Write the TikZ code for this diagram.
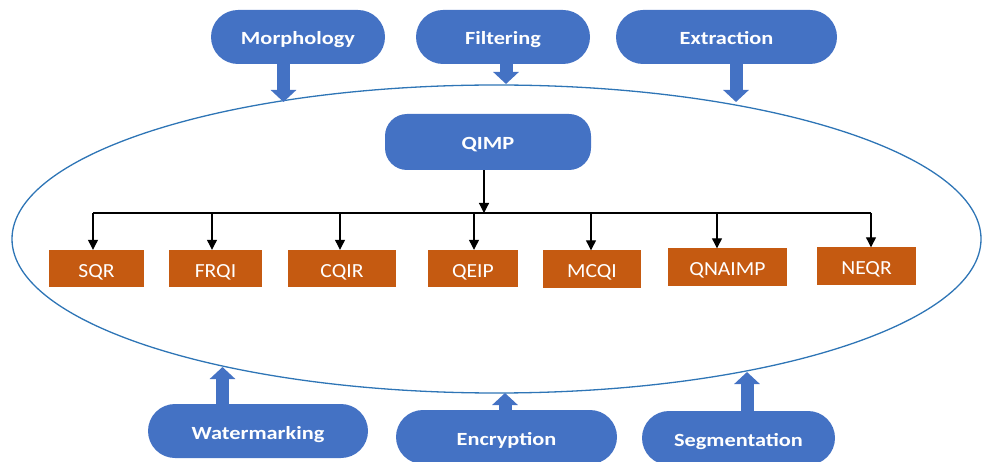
\documentclass[tikz,border=0pt]{standalone}
\usepackage{fontspec}
\setmainfont{Carlito}
\newfontfamily\pillfont[FakeStretch=1.2]{Carlito}
\newfontfamily\boxfont[FakeStretch=1.08]{Carlito}
\usetikzlibrary{arrows.meta}
\definecolor{pillblue}{HTML}{4472C4}
\definecolor{boxorange}{HTML}{C55A11}
\definecolor{ringblue}{HTML}{2E75B6}
\begin{document}
\begin{tikzpicture}[x=1pt,y=-1pt,
  pill/.style={fill=pillblue, draw=none, rounded corners=27pt, minimum height=54pt, text=white,
    font=\pillfont\bfseries\fontsize{18.6}{20}\selectfont, inner sep=0pt, text height=16pt, text depth=0pt},
  qbox/.style={fill=pillblue, draw=none, rounded corners=22pt, minimum height=56pt, minimum width=206pt, text=white,
    font=\pillfont\bfseries\fontsize{18.6}{20}\selectfont, inner sep=0pt, text height=16pt, text depth=0pt},
  obox/.style={fill=boxorange, draw=none, minimum height=37pt, text=white,
    font=\boxfont\fontsize{20}{22}\selectfont, inner sep=0pt, text height=17pt, text depth=0pt},
  blockarrow/.style={draw=pillblue, line width=13pt, -{Triangle[width=25pt,length=12pt]}, shorten <=-1pt},
  blk/.style={draw=black, line width=1.2pt, -{Triangle[width=10pt,length=10pt]}},
  bus/.style={draw=black, line width=1.2pt},
]
\useasboundingbox (0,0) rectangle (982,462);

% ellipse
\draw[ringblue, line width=1.3pt] (496.5,239) ellipse [x radius=484.5pt, y radius=154pt];

% top pills
\node[pill, minimum width=174pt] (morph) at (298,37) {Morphology};
\node[pill, minimum width=174pt] (filt) at (503,37) {Filtering};
\node[pill, minimum width=221pt] (extr) at (726.5,37) {Extraction};

% bottom pills
\node[pill, minimum width=220pt] (water) at (258,431) {Watermarking};
\node[pill, minimum width=221pt] (encr) at (506.5,437) {Encryption};
\node[pill, minimum width=193pt] (segm) at (738.5,438) {Segmentation};

% block arrow tips on the ellipse
\coordinate (tm) at (283.5,102);
\coordinate (tf) at (506,84);
\coordinate (te) at (736,102);
\coordinate (tw) at (222.5,367);
\coordinate (tc) at (505,393);
\coordinate (ts) at (747,372);

\draw[blockarrow] (tm |- morph.south) -- (tm);
\draw[blockarrow] (tf |- filt.south) -- (tf);
\draw[blockarrow] (te |- extr.south) -- (te);
\draw[blockarrow] (tw |- water.north) -- (tw);
\draw[blockarrow] (tc |- encr.north) -- (tc);
\draw[blockarrow] (ts |- segm.north) -- (ts);

% QIMP
\node[qbox] (qimp) at (488,142) {QIMP};

% orange boxes
\node[obox, minimum width=95pt] (sqr) at (96.5,268.5) {SQR};
\node[obox, minimum width=93pt] (frqi) at (215.5,268.5) {FRQI};
\node[obox, minimum width=108pt] (cqir) at (342,268.5) {CQIR};
\node[obox, minimum width=90pt] (qeip) at (473,268.5) {QEIP};
\node[obox, minimum width=98pt] (mcqi) at (592,269) {MCQI};
\node[obox, minimum width=119pt] (qnaimp) at (727.5,267) {QNAIMP};
\node[obox, minimum width=99pt] (neqr) at (866.5,266) {NEQR};

% bus
\coordinate (b1) at (93,213);
\coordinate (b2) at (212,213);
\coordinate (b3) at (340,213);
\coordinate (b4) at (474,213);
\coordinate (b5) at (591,213);
\coordinate (b6) at (717,213);
\coordinate (b7) at (871,213);
\coordinate (bq) at (484,213);

\draw[blk] (bq |- qimp.south) -- (bq);
\draw[bus] (b1) -- (b7);
\draw[blk] (b1) -- (b1 |- sqr.north);
\draw[blk] (b2) -- (b2 |- frqi.north);
\draw[blk] (b3) -- (b3 |- cqir.north);
\draw[blk] (b4) -- (b4 |- qeip.north);
\draw[blk] (b5) -- (b5 |- mcqi.north);
\draw[blk] (b6) -- (b6 |- qnaimp.north);
\draw[blk] (b7) -- (b7 |- neqr.north);
\end{tikzpicture}
\end{document}
